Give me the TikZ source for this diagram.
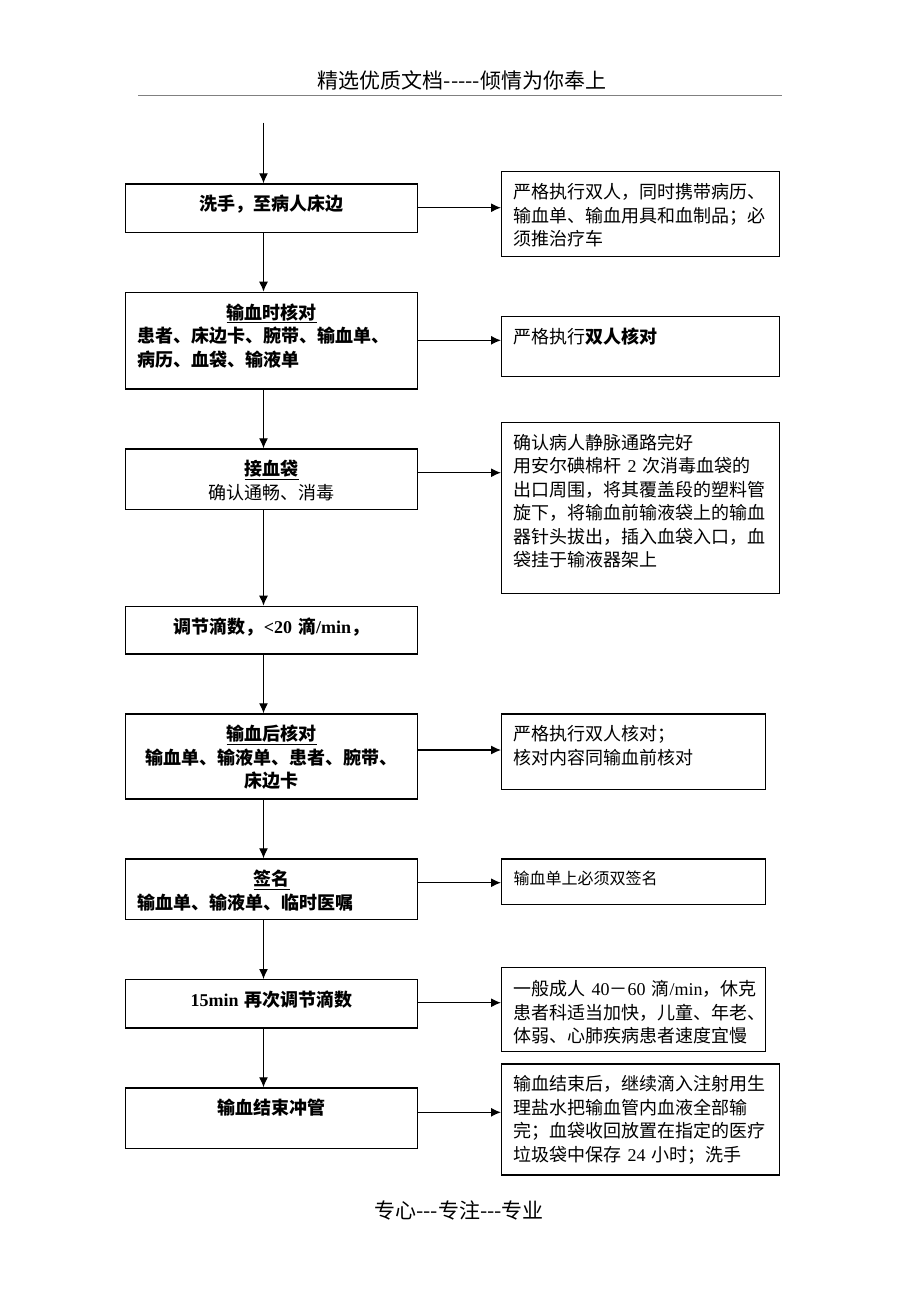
\documentclass[tikz,border=0pt]{standalone}
\usepackage{fontspec}
\setmainfont{Noto Sans CJK SC}[Ligatures=TeXOff]
\newfontfamily\lat{Liberation Serif}
\usetikzlibrary{arrows.meta}

\tikzstyle{block} = [rectangle, draw, anchor=north west, inner xsep=12pt, inner ysep=0pt,
    text width=268pt, text height=27pt, align=center, font=\bfseries\fontsize{18}{23.5}\selectfont]
\tikzstyle{note} = [rectangle, draw, anchor=north west, inner xsep=12pt, inner ysep=0pt,
    text width=254pt, text height=27pt, align=left, font=\fontsize{18}{23.5}\selectfont]
\tikzstyle{line} = [draw, -{Latex[length=10pt, width=9pt]}]

\begin{document}
\begin{tikzpicture}[x=1pt, y=-1pt, line width=1.2pt]
    \useasboundingbox (0,0) rectangle (920,1302);

    % header and footer
    \node [font=\fontsize{21}{25}\selectfont] (header) at (462,80) {精选优质文档-----倾情为你奉上};
    \draw [gray, line width=0.8pt] (138,95.7) -- (782,95.7);
    \node [font=\fontsize{21}{25}\selectfont] (footer) at (459,1210) {专心---专注---专业};

    % steps
    \node [block, text depth=21.4pt] (wash) at (125,183.3) {洗手，至病人床边};
    \node [block, text depth=69.6pt] (check) at (125,291.7) {\underline{输血时核对}\\
        \makebox[\linewidth][l]{患者、床边卡、腕带、输血单、}\\
        \makebox[\linewidth][l]{病历、血袋、输液单}};
    \node [block, text depth=33.7pt] (connect) at (125,448.3) {\underline{接血袋}\\ {\mdseries 确认通畅、消毒}};
    \node [block, text depth=20.6pt] (rate) at (125,605.7) {调节滴数，{\lat <20} 滴{\lat /min}，};
    \node [block, text depth=58pt] (recheck) at (125,713.3) {\underline{输血后核对}\\ 输血单、输液单、患者、腕带、\\ 床边卡};
    \node [block, text depth=33.7pt] (sign) at (125,858.3) {\underline{签名}\\
        \makebox[\linewidth][l]{输血单、输液单、临时医嘱}};
    \node [block, text depth=21.3pt] (adjust) at (125,979) {{\lat 15min} 再次调节滴数};
    \node [block, text depth=33.4pt] (flush) at (125,1087.3) {输血结束冲管};

    % notes
    \node [note, text depth=58pt] (note1) at (501,171) {严格执行双人，同时携带病历、\\ 输血单、输血用具和血制品；必\\ 须推治疗车};
    \node [note, text depth=33.3pt] (note2) at (501,315.7) {严格执行{\bfseries 双人核对}};
    \node [note, text depth=144pt] (note3) at (501,421.7) {确认病人静脉通路完好\\
        \mbox{用安尔碘棉杆 {\lat 2} 次消毒血袋的}\\ 出口周围，将其覆盖段的塑料管\\
        旋下，将输血前输液袋上的输血\\ 器针头拔出，插入血袋入口，血\\ 袋挂于输液器架上};
    \node [note, text width=240pt, text depth=48.7pt] (note4) at (501,713.3) {严格执行双人核对；\\ 核对内容同输血前核对};
    \node [note, text width=240pt, text height=26pt, text depth=19.7pt,
        font=\fontsize{16}{21}\selectfont] (note5) at (501,858.3) {输血单上必须双签名};
    \node [note, text width=240pt, text height=28.5pt, text depth=55.8pt] (note6) at (501,966.7) {%
        \mbox{一般成人 {\lat 40}－{\lat 60} 滴{\lat /min}，休克}\\ 患者科适当加快，儿童、年老、\\ 体弱、心肺疾病患者速度宜慢};
    \node [note, text depth=84pt] (note7) at (501,1063.3) {输血结束后，继续滴入注射用生\\
        理盐水把输血管内血液全部输\\ 完；血袋收回放置在指定的医疗\\ \mbox{垃圾袋中保存 {\lat 24} 小时；洗手}};

    % main flow
    \coordinate (top) at (263.5,122.7);
    \path [line] (top) -- (wash.north -| top);
    \path [line] (wash.south -| top) -- (check.north -| top);
    \path [line] (check.south -| top) -- (connect.north -| top);
    \path [line] (connect.south -| top) -- (rate.north -| top);
    \path [line] (rate.south -| top) -- (recheck.north -| top);
    \path [line] (recheck.south -| top) -- (sign.north -| top);
    \path [line] (sign.south -| top) -- (adjust.north -| top);
    \path [line] (adjust.south -| top) -- (flush.north -| top);

    % side notes
    \coordinate (out1) at ([yshift=-24.4pt]wash.north east);
    \coordinate (out2) at ([yshift=-48.6pt]check.north east);
    \coordinate (out3) at ([yshift=-24.4pt]connect.north east);
    \coordinate (out5) at ([yshift=-36.7pt]recheck.north east);
    \coordinate (out6) at ([yshift=-24.4pt]sign.north east);
    \coordinate (out7) at ([yshift=-23.7pt]adjust.north east);
    \coordinate (out8) at ([yshift=-25pt]flush.north east);
    \path [line] (out1) -- (out1 -| note1.west);
    \path [line] (out2) -- (out2 -| note2.west);
    \path [line] (out3) -- (out3 -| note3.west);
    \path [line] (out5) -- (out5 -| note4.west);
    \path [line] (out6) -- (out6 -| note5.west);
    \path [line] (out7) -- (out7 -| note6.west);
    \path [line] (out8) -- (out8 -| note7.west);
\end{tikzpicture}
\end{document}
